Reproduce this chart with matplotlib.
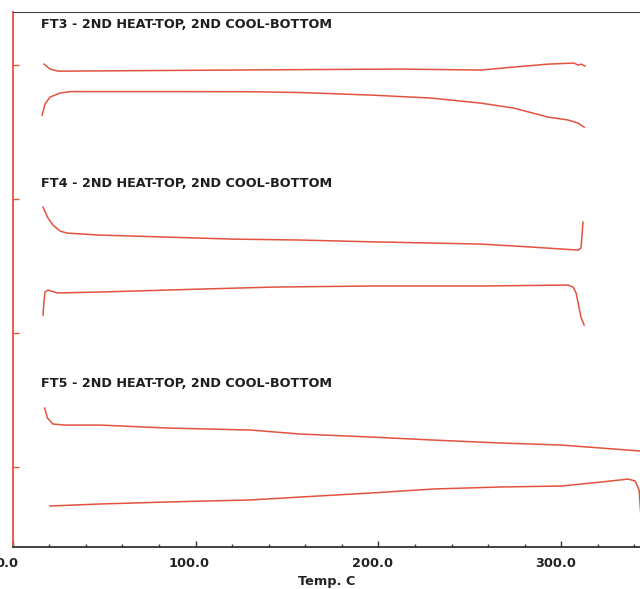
import numpy as np
import matplotlib.pyplot as plt
import matplotlib.transforms as mtransforms
from matplotlib.ticker import MultipleLocator, NullFormatter

# ---------------------------------- DATA ----------------------------------
# temperature (C) and heat flow (arbitrary units, curves offset by sample)
ft3_heat_t = [17.2, 20.4, 24.8, 31.4, 75.2, 157.4, 212.2, 256.0, 274.0, 292.7, 307.0, 309.2, 310.8, 313.0]
ft3_heat_y = [3.007, 2.970, 2.955, 2.955, 2.959, 2.966, 2.970, 2.963, 2.985, 3.007, 3.015, 3.000, 3.007, 2.993]

ft3_cool_t = [16.1, 17.7, 20.4, 25.9, 31.4, 89.0, 130.0, 157.4, 195.8, 228.7, 256.0, 274.0, 292.7, 303.7, 309.2, 312.5]
ft3_cool_y = [2.627, 2.709, 2.761, 2.791, 2.802, 2.802, 2.801, 2.795, 2.776, 2.754, 2.716, 2.679, 2.612, 2.590, 2.567, 2.537]

ft4_heat_t = [16.6, 19.3, 22.0, 25.9, 29.8, 47.8, 84.5, 120.7, 157.4, 195.8, 256.0, 283.4, 309.2, 310.8, 311.9]
ft4_heat_y = [1.940, 1.858, 1.806, 1.761, 1.746, 1.731, 1.716, 1.701, 1.694, 1.681, 1.664, 1.642, 1.619, 1.634, 1.828]

ft4_cool_t = [16.6, 17.2, 17.7, 19.3, 24.3, 47.8, 102.6, 142.6, 195.8, 256.0, 303.7, 306.5, 308.1, 310.8, 312.5]
ft4_cool_y = [1.134, 1.246, 1.306, 1.321, 1.299, 1.306, 1.328, 1.343, 1.351, 1.351, 1.358, 1.343, 1.299, 1.119, 1.060]

ft5_heat_t = [17.5, 19.0, 22.0, 28.7, 47.8, 84.5, 130.0, 157.4, 195.8, 230.3, 267.0, 300.0, 343.7]
ft5_heat_y = [0.440, 0.366, 0.321, 0.313, 0.313, 0.291, 0.276, 0.246, 0.224, 0.201, 0.179, 0.164, 0.119]

ft5_cool_t = [20.4, 47.8, 84.5, 130.0, 157.4, 195.8, 230.3, 267.0, 300.0, 321.8, 336.6, 340.4, 342.6, 343.7]
ft5_cool_y = [-0.291, -0.276, -0.261, -0.246, -0.224, -0.194, -0.164, -0.149, -0.142, -0.112, -0.090, -0.104, -0.172, -0.396]

titles = ["FT3 - 2ND HEAT-TOP, 2ND COOL-BOTTOM",
          "FT4 - 2ND HEAT-TOP, 2ND COOL-BOTTOM",
          "FT5 - 2ND HEAT-TOP, 2ND COOL-BOTTOM"]
title_y = [3.300, 2.115, 0.620]

x_ticks = [0, 100, 200, 300]
x_labels = ["0.0", "100.0", "200.0", "300.0"]
y_ticks = [0, 1, 2, 3]

# ---------------------------------- PLOT ----------------------------------
plt.rcParams['font.family'] = ['DejaVu Sans']
red = '#e2533d'

fig = plt.figure(figsize=(6.4, 5.89), dpi=100)
ax = fig.add_axes([0.0198, 0.0713, 1.0, 0.9083])

for t, y in [(ft3_heat_t, ft3_heat_y), (ft3_cool_t, ft3_cool_y),
             (ft4_heat_t, ft4_heat_y), (ft4_cool_t, ft4_cool_y),
             (ft5_heat_t, ft5_heat_y), (ft5_cool_t, ft5_cool_y)]:
    ax.plot(t, y, color=red, lw=1.1)

# titoli dei blocchi
for txt, ty in zip(titles, title_y):
    ax.text(15.5, ty, txt, fontsize=9.2, fontweight='bold', color='#1e1e1e', va='center', ha='left')

ax.set_xlim(0, 350)
ax.set_ylim(-0.597, 3.396)

ax.set_xticks(x_ticks)
ax.set_xticklabels(x_labels, fontsize=9.3, fontweight='bold', color='#222222')
ax.xaxis.set_minor_locator(MultipleLocator(20))
ax.tick_params(axis='x', which='major', direction='in', length=4.5, width=1, color='#333333', pad=7)
ax.tick_params(axis='x', which='minor', direction='in', length=2.5, width=1, color='#333333')

# etichette leggermente spostate a sinistra come nell'originale
shift = mtransforms.ScaledTranslation(-0.06, 0, fig.dpi_scale_trans)
for lbl in ax.get_xticklabels():
    lbl.set_transform(lbl.get_transform() + shift)

ax.set_yticks(y_ticks)
ax.yaxis.set_major_formatter(NullFormatter())
ax.tick_params(axis='y', which='major', direction='in', length=4, width=1, color=red)

ax.set_xlabel("Temp. C", fontsize=9.3, fontweight='bold', color='#222222')
ax.xaxis.set_label_coords(0.491, -0.052)

ax.spines['left'].set_color(red)
ax.spines['left'].set_linewidth(1.3)
ax.spines['top'].set_color('#444444')
ax.spines['bottom'].set_color('#333333')
ax.spines['bottom'].set_linewidth(1.3)
ax.spines['right'].set_visible(False)

fig.savefig("out.png", dpi=100)
